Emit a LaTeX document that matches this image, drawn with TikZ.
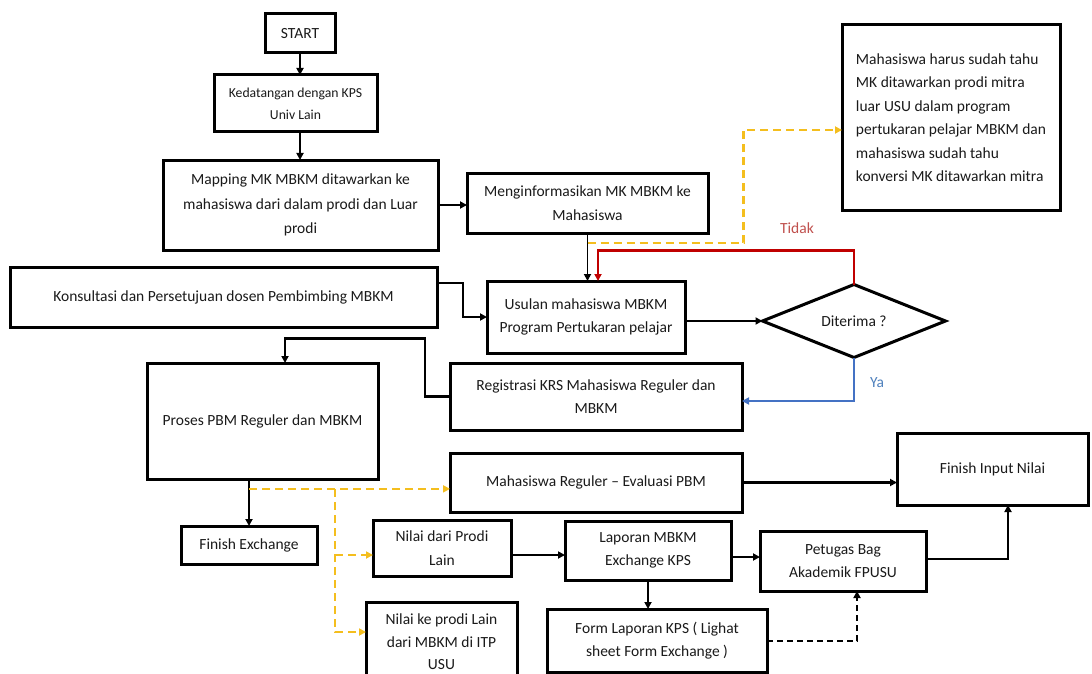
\documentclass[tikz,border=0pt]{standalone}
\usepackage{fontspec}
\setmainfont{Carlito}
\usetikzlibrary{shapes.geometric,arrows.meta,calc}
\definecolor{ygold}{HTML}{F4BE1E}
\definecolor{rline}{HTML}{C00000}
\definecolor{bline}{HTML}{4472C4}
\definecolor{tred}{HTML}{C0504D}
\definecolor{tblue}{HTML}{4F81BD}
\definecolor{txt}{HTML}{1A1A1A}
\begin{document}
\begin{tikzpicture}[x=1pt,y=-1pt,
  box/.style={draw=black, line width=3pt, inner sep=0pt, outer sep=0pt, align=center, text=txt, fill=white, font=\fontsize{15.5}{23.5}\selectfont},
  tip/.style={-{Triangle[length=7pt,width=7pt]}},
  arr/.style={draw=black, line width=2.2pt, tip},
  ydash/.style={draw=ygold, line width=2.2pt, dash pattern=on 8pt off 5pt, tip},
  kdash/.style={draw=black, line width=2pt, dash pattern=on 6pt off 4pt, tip},
  rarr/.style={draw=rline, line width=2.2pt, tip},
  barr/.style={draw=bline, line width=2.2pt, tip},
  lbl/.style={font=\fontsize{15.5}{18}\selectfont}
]
\useasboundingbox (0,0) rectangle (1092,674);
\clip (0,0) rectangle (1092,674);
\fill[white] (0,0) rectangle (1092,674);

% boxes
\node[box, minimum width=70pt, minimum height=39pt] (start) at (300,33.5) {START};
\node[box, minimum width=163pt, minimum height=57pt, font=\fontsize{13.7}{22}\selectfont] (ked) at (295.5,103.5) {Kedatangan dengan KPS\\Univ Lain};
\node[box, minimum width=275pt, minimum height=90pt, font=\fontsize{15.5}{24.5}\selectfont] (map) at (300.5,205) {Mapping MK MBKM ditawarkan ke\\mahasiswa dari dalam prodi dan Luar\\prodi};
\node[box, minimum width=241pt, minimum height=60pt] (info) at (587.5,203) {Menginformasikan MK MBKM ke\\Mahasiswa};
\node[box, minimum width=218pt, minimum height=185pt, align=left, font=\fontsize{15.5}{23.5}\selectfont] (note) at (951,117.5) {Mahasiswa harus sudah tahu\\MK ditawarkan prodi mitra\\luar USU dalam program\\pertukaran pelajar MBKM dan\\mahasiswa sudah tahu\\konversi MK ditawarkan mitra};
\node[box, minimum width=427pt, minimum height=60pt] (konsul) at (223.5,297) {Konsultasi dan Persetujuan dosen Pembimbing MBKM};
\node[box, minimum width=198pt, minimum height=72pt] (usul) at (586,317) {Usulan mahasiswa MBKM\\Program Pertukaran pelajar};
\node[diamond, draw=black, line width=3pt, inner sep=0pt, outer sep=0pt, aspect=2.5, minimum width=183pt, minimum height=73pt, text=txt, font=\fontsize{15.5}{18}\selectfont] (dia) at (854,321) {Diterima ?};
\node[box, minimum width=292pt, minimum height=67pt] (reg) at (596,396.5) {Registrasi KRS Mahasiswa Reguler dan\\MBKM};
\node[box, minimum width=231pt, minimum height=116pt] (proses) at (262.5,421) {Proses PBM Reguler dan MBKM};
\node[box, minimum width=136pt, minimum height=38pt] (finex) at (249,545) {Finish Exchange};
\node[box, minimum width=292pt, minimum height=59pt] (maha) at (596,482.5) {Mahasiswa Reguler – Evaluasi PBM};
\node[box, minimum width=191pt, minimum height=72pt] (finin) at (992.5,469) {Finish Input Nilai};
\node[box, minimum width=138pt, minimum height=56pt] (ndp) at (442,548) {Nilai dari Prodi\\Lain};
\node[box, minimum width=151pt, minimum height=80pt, font=\fontsize{15.5}{22.5}\selectfont] (nkp) at (441.5,642) {Nilai ke prodi Lain\\dari MBKM di ITP\\USU};
\node[box, minimum width=166pt, minimum height=59pt] (lap) at (648,550.5) {Laporan MBKM\\Exchange KPS};
\node[box, minimum width=166pt, minimum height=60pt] (pet) at (843,561) {Petugas Bag\\Akademik FPUSU};
\node[box, minimum width=220pt, minimum height=63pt] (form) at (657,640.5) {Form Laporan KPS ( Lighat\\sheet Form Exchange )};

% labels
\node[lbl, text=tred] (tidak) at (797,228) {Tidak};
\node[lbl, text=tblue] (ya) at (877,383) {Ya};

% connectors
\draw[arr] (start.south) -- (start.south |- ked.north);
\draw[arr] (start.south |- ked.south) -- (start.south |- map.north);
\draw[arr] (map.east) -- (map.east -| info.west);
\draw[arr, line width=1.8pt] (info.south) -- (info.south |- usul.north);
\coordinate (yb) at ($(info.south)!0.21!(info.south |- usul.north)$);
\draw[ydash] (yb) -- ++(156,0) |- ([yshift=-12.5pt]note.west);
\draw[arr] ([yshift=14pt]konsul.east) -- ++(26,0) |- (usul.west);
\draw[arr] (usul.east |- dia.west) -- (dia.west);
\draw[rarr] (dia.north) -- ++(0,-34) -| ([xshift=12pt]usul.north);
\draw[barr] (dia.south) |- ([yshift=-4.5pt]reg.east);
\draw[arr] (reg.west) -- ++(-25,0) -- ++(0,-58) -| ([xshift=22.5pt]proses.north);
\draw[arr] (finex.north |- proses.south) -- (finex.north);
\coordinate (ya1) at ($(finex.north |- proses.south)!0.21!(finex.north)$);
\draw[ydash] (ya1) -- (ya1 -| maha.west);
\coordinate (yc) at (335,489);
\draw[ydash] (yc) |- ([yshift=10pt]nkp.west);
\draw[ydash] (yc |- 0,555) -- ([yshift=-7pt]ndp.west);
\draw[arr] ([yshift=-7pt]ndp.east) -- ([yshift=-7pt]ndp.east -| lap.west);
\draw[arr] (maha.east) -- (maha.east -| finin.west);
\draw[arr] ([yshift=-6.5pt]lap.east) -- ([yshift=-6.5pt]lap.east -| pet.west);
\draw[arr] (lap.south) -- (lap.south |- form.north);
\draw[kdash] (form.east) -| ([xshift=14pt]pet.south);
\draw[arr] ([yshift=2pt]pet.east) -| ([xshift=15.5pt]finin.south);
\end{tikzpicture}
\end{document}
